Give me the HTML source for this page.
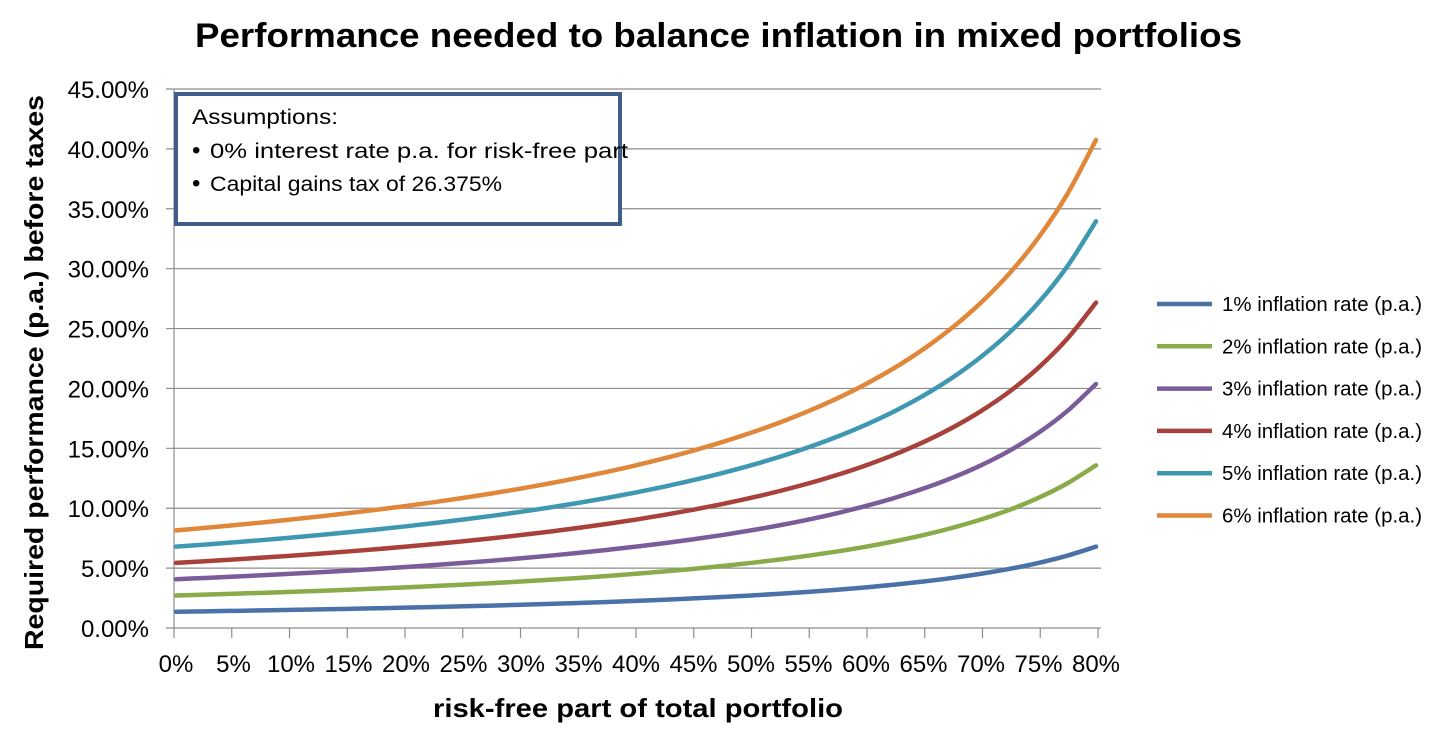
<!DOCTYPE html>
<html><head><meta charset="utf-8"><style>
body{margin:0;background:#fff;width:1429px;height:726px;overflow:hidden}
text{font-family:"Liberation Sans",sans-serif}
</style></head><body>
<svg id="chart" width="1429" height="726" xmlns="http://www.w3.org/2000/svg">
<text x="195" y="47" textLength="1047" lengthAdjust="spacingAndGlyphs" font-size="34" font-weight="bold" fill="#000">Performance needed to balance inflation in mixed portfolios</text>
<text x="433" y="717" textLength="410" lengthAdjust="spacingAndGlyphs" font-size="26" font-weight="bold">risk-free part of total portfolio</text>
<text transform="translate(43,650) rotate(-90)" textLength="555" lengthAdjust="spacingAndGlyphs" font-size="26" font-weight="bold">Required performance (p.a.) before taxes</text>
<g id="grid"></g><g id="axes"></g><g id="series"></g>
<g>
<rect x="176" y="94" width="444" height="130" fill="#fff" stroke="#3f5f8a" stroke-width="4"/>
<text x="192" y="124" font-size="21" textLength="146" lengthAdjust="spacingAndGlyphs">Assumptions:</text>
<text x="192" y="158" font-size="24">•</text>
<text x="210" y="158" font-size="21" textLength="418" lengthAdjust="spacingAndGlyphs">0% interest rate p.a. for risk-free part</text>
<text x="192" y="191" font-size="24">•</text>
<text x="210" y="191" font-size="21" textLength="292" lengthAdjust="spacingAndGlyphs">Capital gains tax of 26.375%</text>
</g>
<g id="legend"></g>
</svg>
<script>
const categories=[0,2.5,5,7.5,10,12.5,15,17.5,20,22.5,25,27.5,30,32.5,35,37.5,40,42.5,45,47.5,50,52.5,55,57.5,60,62.5,65,67.5,70,72.5,75,77.5,80];
const tickLabels=[0,5,10,15,20,25,30,35,40,45,50,55,60,65,70,75,80];
const yTicks=[0,5,10,15,20,25,30,35,40,45];
const seriesNames=["1% inflation rate (p.a.)","2% inflation rate (p.a.)","3% inflation rate (p.a.)","4% inflation rate (p.a.)","5% inflation rate (p.a.)","6% inflation rate (p.a.)"];
const s1=[1.358,1.393,1.430,1.468,1.509,1.552,1.598,1.646,1.698,1.753,1.811,1.873,1.940,2.012,2.090,2.173,2.264,2.362,2.469,2.587,2.716,2.859,3.018,3.196,3.396,3.622,3.881,4.179,4.527,4.939,5.433,6.037,6.791];
const s2=[2.716,2.786,2.860,2.937,3.018,3.104,3.196,3.293,3.396,3.505,3.622,3.747,3.881,4.024,4.179,4.346,4.527,4.724,4.939,5.174,5.433,5.719,6.036,6.392,6.791,7.244,7.761,8.358,9.055,9.878,10.866,12.073,13.582];
const s3=[4.075,4.179,4.290,4.405,4.527,4.657,4.794,4.939,5.093,5.258,5.433,5.620,5.821,6.037,6.269,6.520,6.791,7.087,7.408,7.761,8.149,8.578,9.055,9.588,10.187,10.866,11.642,12.537,13.582,14.816,16.299,18.110,20.374];
const s4=[5.433,5.572,5.719,5.874,6.036,6.209,6.392,6.585,6.791,7.010,7.244,7.494,7.761,8.049,8.358,8.693,9.055,9.449,9.877,10.349,10.866,11.438,12.073,12.784,13.582,14.488,15.522,16.716,18.110,19.755,21.732,24.146,27.165];
const s5=[6.791,6.965,7.149,7.342,7.546,7.761,7.990,8.232,8.489,8.763,9.055,9.367,9.702,10.061,10.448,10.866,11.319,11.811,12.347,12.936,13.582,14.297,15.091,15.980,16.978,18.110,19.403,20.895,22.637,24.693,27.165,30.183,33.956];
const s6=[8.149,8.358,8.578,8.811,9.055,9.314,9.588,9.878,10.187,10.515,10.866,11.241,11.642,12.073,12.537,13.039,13.582,14.173,14.816,15.523,16.299,17.157,18.110,19.176,20.374,21.732,23.284,25.074,27.165,29.633,32.598,36.219,40.747];
const allSeries=[s1,s2,s3,s4,s5,s6];
const colors=["#4a72a8","#8aab4a","#7a5c9a","#a8413c","#3f98b2","#e0873a"];
const NS="http://www.w3.org/2000/svg";
const X=v=>176+v/80*920, Y=v=>628-v/45*539;
function mk(t,a,p){const e=document.createElementNS(NS,t);for(const k in a)e.setAttribute(k,a[k]);p.appendChild(e);return e;}
const grid=document.getElementById('grid'),axes=document.getElementById('axes'),ser=document.getElementById('series'),leg=document.getElementById('legend');
yTicks.forEach(t=>{
 const l=mk('line',{x1:166,x2:1101,y1:Y(t),y2:Y(t),stroke:'#8c8c8c','stroke-width':1.2},grid);
 
 
 const tx=mk('text',{x:149,y:Y(t)+9,'text-anchor':'end','font-size':24},axes);tx.textContent=t.toFixed(2)+'%';
 
 
});
const ax=mk('line',{x1:174,x2:174,y1:Y(45),y2:628,stroke:'#8c8c8c','stroke-width':1.2},axes);


tickLabels.forEach(c=>{
 const tk=mk('line',{x1:X(c)-2+(c/80)*4,x2:X(c)-2+(c/80)*4,y1:628,y2:638,stroke:'#8c8c8c','stroke-width':1.2},axes);
 
 
 const tx=mk('text',{x:X(c),y:672,'text-anchor':'middle','font-size':24},axes);tx.textContent=c+'%';
 
 
});
function smooth(pts){let d='M'+pts[0][0]+','+pts[0][1];for(let i=0;i<pts.length-1;i++){const p0=pts[i-1]||pts[i],p1=pts[i],p2=pts[i+1],p3=pts[i+2]||p2;
 d+=' C'+(p1[0]+(p2[0]-p0[0])/6)+','+(p1[1]+(p2[1]-p0[1])/6)+' '+(p2[0]-(p3[0]-p1[0])/6)+','+(p2[1]-(p3[1]-p1[1])/6)+' '+p2[0]+','+p2[1];}return d;}
allSeries.forEach((s,i)=>{
 const p=mk('path',{d:smooth(s.map((v,j)=>[X(categories[j]),Y(v)])),fill:'none',stroke:colors[i],'stroke-width':4.5,'stroke-linecap':'round'},ser);
 
 
 const ly=304+i*42.3;
 const g=mk('g',{},leg);
 
 
 mk('line',{x1:1157,x2:1212,y1:ly,y2:ly,stroke:colors[i],'stroke-width':4.5},g);
 const t=mk('text',{x:1222,y:ly+7,'font-size':20,textLength:200,lengthAdjust:'spacingAndGlyphs'},g);t.textContent=seriesNames[i];
});
</script>
</body></html>
